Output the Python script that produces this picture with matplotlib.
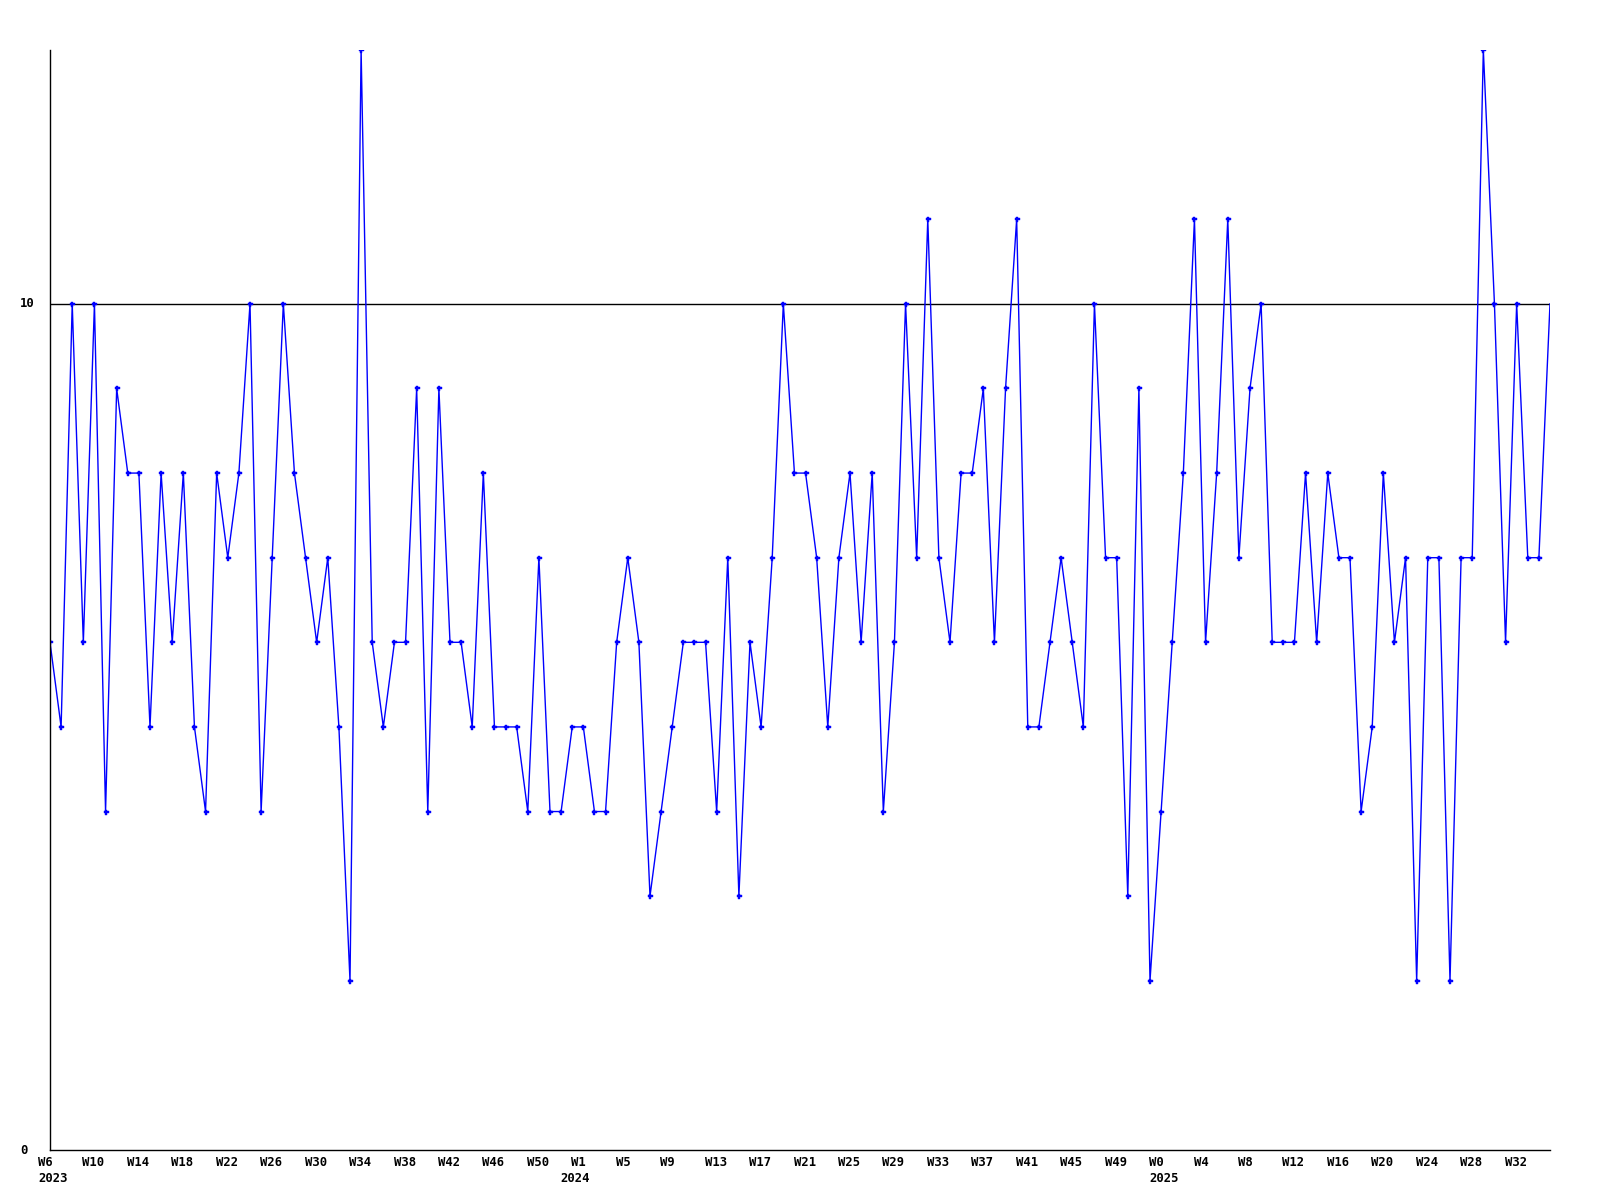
import matplotlib
matplotlib.use("Agg")
import matplotlib.pyplot as plt
import matplotlib.transforms as mtransforms

# weekly counts, W6 2023 .. W35 2025
values = [6, 5, 10, 6, 10, 4, 9, 8, 8, 5, 8, 6, 8, 5, 4, 8, 7, 8, 10, 4,
          7, 10, 8, 7, 6, 7, 5, 2, 13, 6, 5, 6, 6, 9, 4, 9, 6, 6, 5, 8,
          5, 5, 5, 4, 7, 4, 4, 5, 5, 4, 4, 6, 7, 6, 3, 4, 5, 6, 6, 6,
          4, 7, 3, 6, 5, 7, 10, 8, 8, 7, 5, 7, 8, 6, 8, 4, 6, 10, 7, 11,
          7, 6, 8, 8, 9, 6, 9, 11, 5, 5, 6, 7, 6, 5, 10, 7, 7, 3, 9, 2,
          4, 6, 8, 11, 6, 8, 11, 7, 9, 10, 6, 6, 6, 8, 6, 8, 7, 7, 4, 5,
          8, 6, 7, 2, 7, 7, 2, 7, 7, 13, 10, 6, 10, 7, 7, 10]

week_labels = ["W6", "W10", "W14", "W18", "W22", "W26", "W30", "W34", "W38",
               "W42", "W46", "W50", "W1", "W5", "W9", "W13", "W17", "W21",
               "W25", "W29", "W33", "W37", "W41", "W45", "W49", "W0", "W4",
               "W8", "W12", "W16", "W20", "W24", "W28", "W32"]
year_labels = {"2023": 0, "2024": 47, "2025": 100}

font = dict(family="DejaVu Sans Mono", fontweight="bold", fontsize=8.8)

fig = plt.figure(figsize=(16, 12), dpi=100)
ax = fig.add_axes([50 / 1600, 1 - 1150 / 1200, 1500 / 1600, 1100 / 1200])

x = list(range(len(values)))
ax.plot(x, values, color="#0000ff", lw=1)
ax.plot(x[:-1], values[:-1], ls="none", marker="P", ms=3.6, mew=0.3,
        color="#0000ff")

ax.axhline(10, color="black", lw=1, zorder=0)
ax.set_xlim(0, len(values) - 1)
ax.set_ylim(0, 13)

for s in ["top", "right"]:
    ax.spines[s].set_visible(False)
for s in ["left", "bottom"]:
    ax.spines[s].set_linewidth(1)

ax.set_xticks([])
ax.set_yticks([])

# y labels
ytrans = mtransforms.offset_copy(ax.transData, fig=fig, x=-30, y=0, units="dots")
for v in [0, 10]:
    ax.text(0, v, str(v), transform=ytrans, ha="left", va="center", **font)

# x labels, left-aligned a little before each point
blend = mtransforms.blended_transform_factory(ax.transData, ax.transAxes)
wtrans = mtransforms.offset_copy(blend, fig=fig, x=-12, y=-13, units="dots")
for i, lab in enumerate(week_labels):
    ax.text(i * 4, 0, lab, transform=wtrans, ha="left", va="center", **font)
ytr = mtransforms.offset_copy(blend, fig=fig, x=-12, y=-28, units="dots")
for lab, i in year_labels.items():
    ax.text(i, 0, lab, transform=ytr, ha="left", va="center", **font)

fig.savefig("out.png", dpi=100)
